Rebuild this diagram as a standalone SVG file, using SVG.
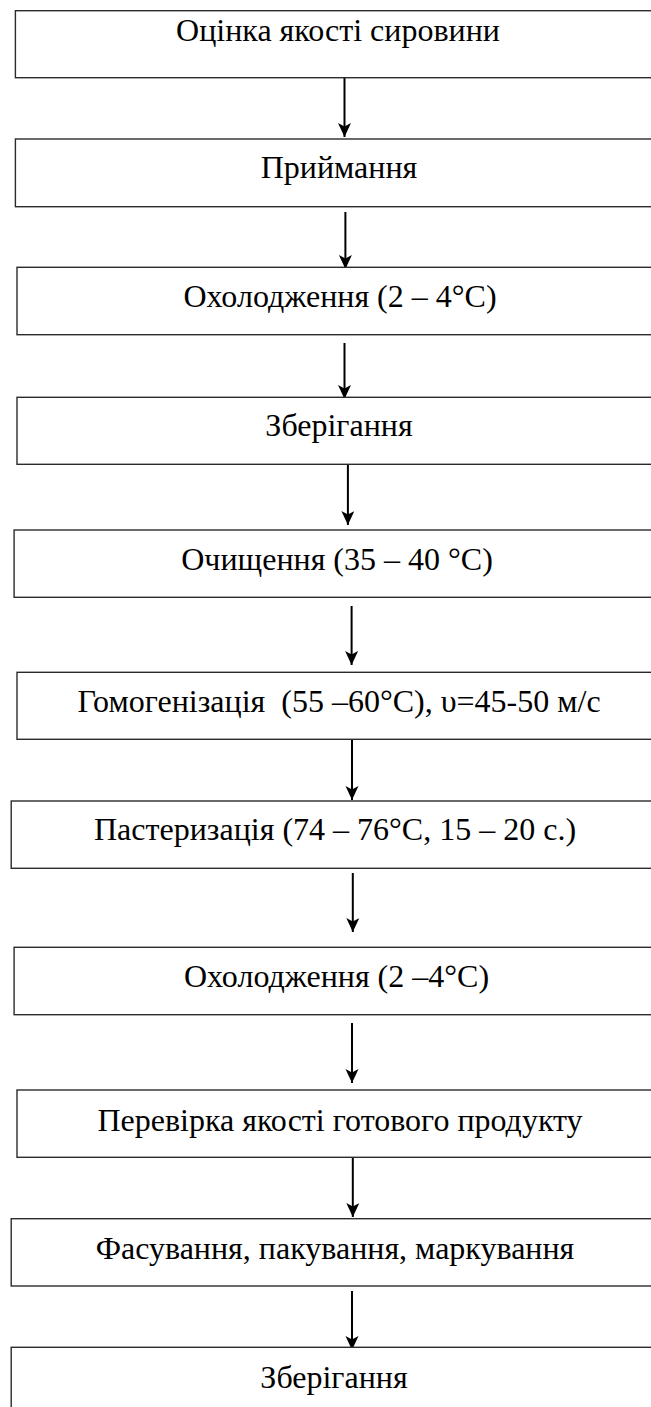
<svg xmlns="http://www.w3.org/2000/svg" width="651" height="1407" viewBox="0 0 651 1407">
<defs>
<marker id="ah" markerUnits="userSpaceOnUse" markerWidth="16" markerHeight="16" refX="14" refY="6.5" orient="auto">
<path d="M0,0 L14,6.5 L0,13 L3.5,6.5 Z" fill="#000"/>
</marker>
<style>
.box{fill:#fff;stroke:#2b2b2b;stroke-width:1.4}
.lbl{font-family:"Liberation Serif","Times New Roman",serif;font-size:32px;fill:#000;text-anchor:middle}
.arr{stroke:#000;stroke-width:2;fill:none;marker-end:url(#ah)}
</style>
</defs>
<rect width="651" height="1407" fill="#fff"/>
<g id="connectors">
<line class="arr" x1="344.5" y1="78" x2="344.5" y2="137"/>
<line class="arr" x1="345.4" y1="212" x2="345.4" y2="269"/>
<line class="arr" x1="344.5" y1="343" x2="344.5" y2="399"/>
<line class="arr" x1="347.9" y1="465" x2="347.9" y2="525"/>
<line class="arr" x1="351.6" y1="606" x2="351.6" y2="665"/>
<line class="arr" x1="352" y1="739" x2="352" y2="800"/>
<line class="arr" x1="352.8" y1="873" x2="352.8" y2="932"/>
<line class="arr" x1="352" y1="1023" x2="352" y2="1083"/>
<line class="arr" x1="352.8" y1="1157" x2="352.8" y2="1217"/>
<line class="arr" x1="352" y1="1291" x2="352" y2="1350"/>
</g>
<g id="n1"><rect class="box" x="15.4" y="10.7" width="660" height="67"/><text class="lbl" x="338" y="41">Оцінка якості сировини</text></g>
<g id="n2"><rect class="box" x="15.4" y="139" width="660" height="67.7"/><text class="lbl" x="339" y="178">Приймання</text></g>
<g id="n3"><rect class="box" x="17" y="267.3" width="660" height="67.4"/><text class="lbl" x="340" y="306.5">Охолодження (2 – 4°C)</text></g>
<g id="n4"><rect class="box" x="17" y="397.3" width="660" height="67"/><text class="lbl" x="339" y="436">Зберігання</text></g>
<g id="n5"><rect class="box" x="14.1" y="530" width="660" height="67.3"/><text class="lbl" x="337" y="570">Очищення (35 – 40 °C)</text></g>
<g id="n6"><rect class="box" x="17" y="672.3" width="660" height="67"/><text class="lbl" x="339" y="711.5" xml:space="preserve">Гомогенізація  (55 –60°C), υ=45-50 м/с</text></g>
<g id="n7"><rect class="box" x="11.2" y="801" width="660" height="67.3"/><text class="lbl" x="335" y="839.5">Пастеризація (74 – 76°C, 15 – 20 с.)</text></g>
<g id="n8"><rect class="box" x="14.1" y="947.3" width="660" height="67.4"/><text class="lbl" x="336.5" y="986.5">Охолодження (2 –4°C)</text></g>
<g id="n9"><rect class="box" x="17" y="1090" width="660" height="67.3"/><text class="lbl" x="340" y="1130.5">Перевірка якості готового продукту</text></g>
<g id="n10"><rect class="box" x="11.2" y="1218.7" width="660" height="67.3"/><text class="lbl" x="335" y="1259">Фасування, пакування, маркування</text></g>
<g id="n11"><rect class="box" x="11.2" y="1347.3" width="660" height="80"/><text class="lbl" x="334" y="1388">Зберігання</text></g>
</svg>
